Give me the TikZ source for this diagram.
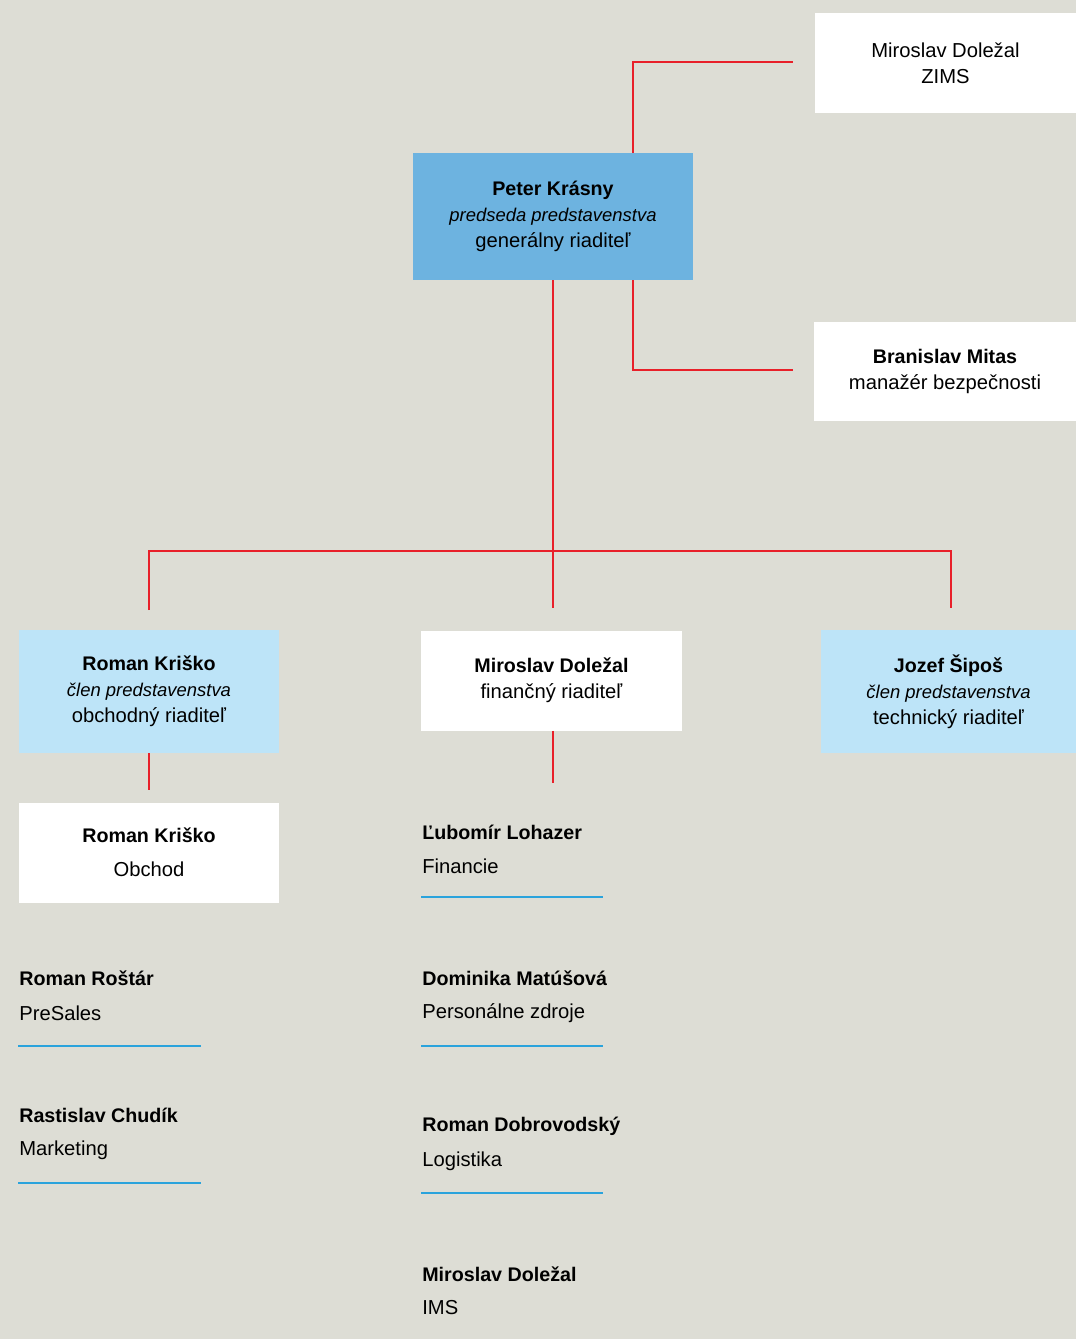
\documentclass[tikz,border=0pt]{standalone}
\usepackage{fontspec}
\setmainfont{Liberation Sans}
\usetikzlibrary{calc}
\definecolor{bggray}{HTML}{DDDDD5}
\definecolor{ceoblue}{HTML}{6DB3E0}
\definecolor{boardblue}{HTML}{BDE4F8}
\definecolor{linkred}{HTML}{E8202A}
\definecolor{ruleblue}{HTML}{2AA3DC}
\tikzset{
  orgbox/.style={fill=white, minimum width=5.2cm, minimum height=2cm, align=center,
    inner sep=0pt, font=\fontsize{11.5}{14.7}\selectfont},
  link/.style={draw=linkred, line width=1.5pt},
  rule/.style={draw=ruleblue, line width=1.1pt},
  person/.style={anchor=west, inner sep=0pt, font=\fontsize{11.2}{14}\selectfont\bfseries},
  unit/.style={anchor=west, inner sep=0pt, font=\fontsize{11.5}{14}\selectfont}
}
\newcommand{\boardrole}[1]{{\fontsize{10.5}{14.7}\selectfont\itshape #1}}
\newcommand{\who}[1]{{\fontsize{11.2}{14.7}\selectfont\bfseries #1}}
\begin{document}
\begin{tikzpicture}[x=0.02cm, y=-0.02cm]
  \fill[bggray] (0,0) rectangle (1076,1339);
  % top management
  \node[orgbox, minimum width=5.22cm] (zims) at (945.5,63) {Miroslav Doležal\\ZIMS};
  \node[orgbox, fill=ceoblue, minimum width=5.6cm, minimum height=2.54cm] (ceo) at (553,216.5)
    {\who{Peter Krásny}\\\boardrole{predseda predstavenstva}\\generálny riaditeľ};
  \node[orgbox, minimum width=5.24cm] (mitas) at (945,371.5)
    {\who{Branislav Mitas}\\manažér bezpečnosti};
  % board level
  \node[orgbox, fill=boardblue, minimum height=2.46cm] (sales) at (149,691.5)
    {\who{Roman Kriško}\\\boardrole{člen predstavenstva}\\obchodný riaditeľ};
  \node[orgbox, minimum width=5.22cm] (fin) at (551.5,680.5)
    {\who{Miroslav Doležal}\\finančný riaditeľ};
  \node[orgbox, fill=boardblue, minimum width=5.1cm, minimum height=2.46cm] (tech) at (948.5,691.5)
    {\who{Jozef Šipoš}\\\boardrole{člen predstavenstva}\\technický riaditeľ};
  \node[orgbox] (obchod) at (149,852.5) {\who{Roman Kriško}\\[4.6pt]Obchod};
  % connectors
  \coordinate (zimsend) at (793,62);
  \coordinate (mitasend) at (793,370);
  \coordinate (bus) at (553,551);
  \coordinate (salestop) at (149,610);
  \coordinate (fintop) at (553,608);
  \coordinate (techtop) at (951,608);
  \coordinate (salesend) at (149,790);
  \coordinate (finend) at (553,783);
  \draw[link] ($(ceo.north)+(80,0)$) |- (zimsend);
  \draw[link] ($(ceo.south)+(80,0)$) |- (mitasend);
  \draw[link] (ceo.south) -- (fintop);
  \draw[link] (salestop) |- (bus) -| (techtop);
  \draw[link] (sales.south) -- (salesend);
  \draw[link] (fin.south -| finend) -- (finend);
  % departments, left column
  \node[person] (rostar) at (19,978) {Roman Roštár};
  \node[unit] (presales) at (19,1013) {PreSales};
  \draw[rule] (18,1046) -- (201,1046);
  \node[person] (chudik) at (19,1115) {Rastislav Chudík};
  \node[unit] (marketing) at (19,1150) {Marketing};
  \draw[rule] (18,1183) -- (201,1183);
  % departments, right column
  \node[person] (lohazer) at (422,832) {Ľubomír Lohazer};
  \node[unit] (financie) at (422,866) {Financie};
  \draw[rule] (421,897) -- (603,897);
  \node[person] (matusova) at (422,978) {Dominika Matúšová};
  \node[unit] (hr) at (422,1013) {Personálne zdroje};
  \draw[rule] (421,1046) -- (603,1046);
  \node[person] (dobrovodsky) at (422,1126) {Roman Dobrovodský};
  \node[unit] (logistika) at (422,1161) {Logistika};
  \draw[rule] (421,1193) -- (603,1193);
  \node[person] (dolezal) at (422,1274) {Miroslav Doležal};
  \node[unit] (ims) at (422,1308) {IMS};
\end{tikzpicture}
\end{document}
